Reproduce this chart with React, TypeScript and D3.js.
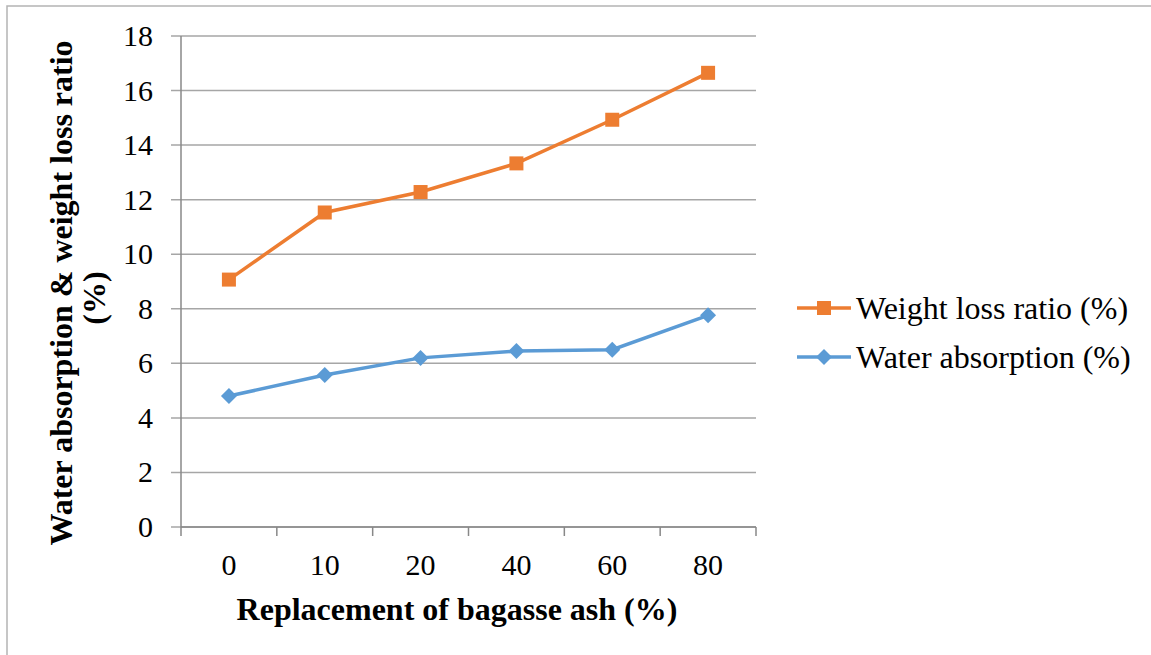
import React from "react";
import * as d3 from "d3";

const categories = ["0", "10", "20", "40", "60", "80"];
const weightLoss = [9.07, 11.53, 12.28, 13.33, 14.93, 16.65];
const waterAbsorption = [4.8, 5.57, 6.2, 6.45, 6.5, 7.76];
const yTicks = [0, 2, 4, 6, 8, 10, 12, 14, 16, 18];
const seriesNames = ["Weight loss ratio (%)", "Water absorption (%)"];
const xTitle = "Replacement of bagasse ash (%)";
const yTitle1 = "Water absorption & weight loss ratio";
const yTitle2 = "(%)";

const W = 1151;
const H = 655;
const left = 181;
const right = 756;
const top = 36;
const bottom = 527;
const ORANGE = "#ED7D31";
const BLUE = "#5B9BD5";
const FONT = "'Liberation Serif', 'Times New Roman', serif";

export default function App() {
  const x = d3.scaleBand<string>().domain(categories).range([left, right]).padding(0);
  const y = d3.scaleLinear().domain([0, 18]).range([bottom, top]);
  const cx = (c: string) => (x(c) as number) + x.bandwidth() / 2;
  const line = d3
    .line<number>()
    .x((_, i) => cx(categories[i]))
    .y((d) => y(d));
  const tickEdges = categories.map((c) => x(c) as number).concat([right]);
  const diamond = (px: number, py: number, r: number) =>
    `M${px},${py - r}L${px + r},${py}L${px},${py + r}L${px - r},${py}Z`;

  const legendX1 = 797;
  const legendX2 = 851;
  const legendY = [308, 357];

  return (
    <svg
      width={W}
      height={H}
      style={{ position: "absolute", left: 0, top: 0, background: "#fff" }}
      fontFamily={FONT}
    >
      <rect x={7} y={6} width={W + 10} height={H + 10} fill="#fff" stroke="#b4b4b4" strokeWidth={1.5} />
      {yTicks.map((t) => (
        <line key={"g" + t} x1={left - 10} x2={right} y1={y(t)} y2={y(t)} stroke="#a6a6a6" strokeWidth={1.5} />
      ))}
      <line x1={left} x2={left} y1={top} y2={bottom} stroke="#888" strokeWidth={1.5} />
      <line x1={left} x2={right} y1={bottom} y2={bottom} stroke="#888" strokeWidth={1.5} />
      {tickEdges.map((e, i) => (
        <line key={"xt" + i} x1={e} x2={e} y1={bottom} y2={bottom + 9} stroke="#888" strokeWidth={1.5} />
      ))}
      {yTicks.map((t) => (
        <text key={"yl" + t} x={153} y={y(t) + 10} textAnchor="end" fontSize={30} fill="#000">
          {t}
        </text>
      ))}
      {categories.map((c) => (
        <text key={"xl" + c} x={cx(c)} y={575} textAnchor="middle" fontSize={30} fill="#000">
          {c}
        </text>
      ))}
      <path d={line(weightLoss) as string} fill="none" stroke={ORANGE} strokeWidth={3.5} />
      {weightLoss.map((v, i) => (
        <rect key={"wm" + i} x={cx(categories[i]) - 7} y={y(v) - 7} width={14} height={14} fill={ORANGE} />
      ))}
      <path d={line(waterAbsorption) as string} fill="none" stroke={BLUE} strokeWidth={3.5} />
      {waterAbsorption.map((v, i) => (
        <path key={"am" + i} d={diamond(cx(categories[i]), y(v), 8)} fill={BLUE} />
      ))}
      <text x={457} y={620} textAnchor="middle" fontSize={32} fontWeight="bold" fill="#000">
        {xTitle}
      </text>
      <text transform={`translate(72,293) rotate(-90)`} textAnchor="middle" fontSize={32} fontWeight="bold" fill="#000">
        {yTitle1}
      </text>
      <text transform={`translate(104.5,298) rotate(-90)`} textAnchor="middle" fontSize={32} fontWeight="bold" fill="#000">
        {yTitle2}
      </text>
      <line x1={legendX1} x2={legendX2} y1={legendY[0]} y2={legendY[0]} stroke={ORANGE} strokeWidth={3.5} />
      <rect x={(legendX1 + legendX2) / 2 - 7} y={legendY[0] - 7} width={14} height={14} fill={ORANGE} />
      <text x={856} y={legendY[0] + 11} fontSize={32} fill="#000">
        {seriesNames[0]}
      </text>
      <line x1={legendX1} x2={legendX2} y1={legendY[1]} y2={legendY[1]} stroke={BLUE} strokeWidth={3.5} />
      <path d={diamond((legendX1 + legendX2) / 2, legendY[1], 8)} fill={BLUE} />
      <text x={856} y={legendY[1] + 11} fontSize={32} fill="#000">
        {seriesNames[1]}
      </text>
    </svg>
  );
}
